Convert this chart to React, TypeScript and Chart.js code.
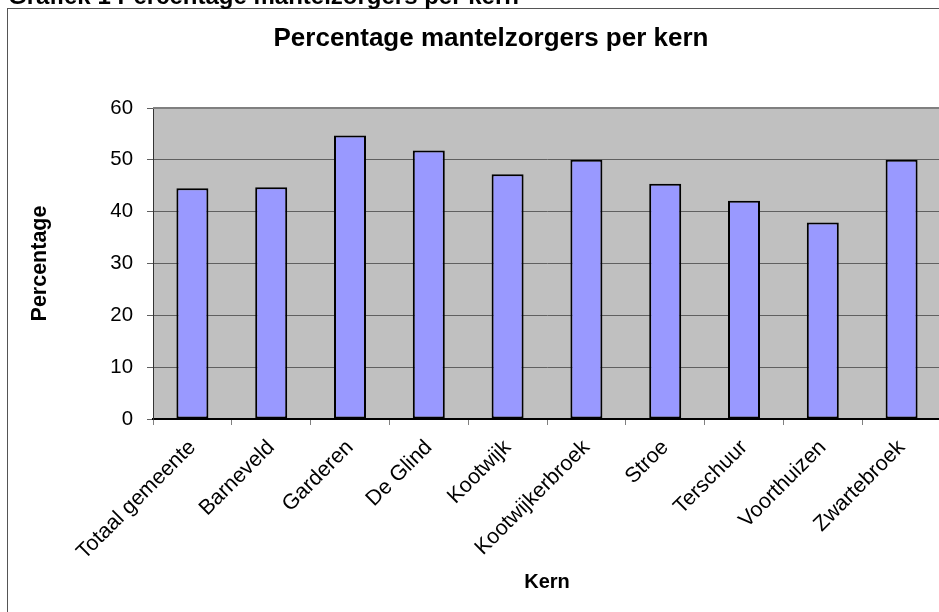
import React, { useEffect, useRef } from 'react';
import { Chart, registerables } from 'chart.js';

Chart.register(...registerables);

const categories = [
  'Totaal gemeente',
  'Barneveld',
  'Garderen',
  'De Glind',
  'Kootwijk',
  'Kootwijkerbroek',
  'Stroe',
  'Terschuur',
  'Voorthuizen',
  'Zwartebroek',
];
const percentages = [44.5, 44.7, 54.7, 51.8, 47.2, 50.0, 45.4, 42.1, 37.9, 50.0];
const yMin = 0;
const yMax = 60;
const yStep = 10;
const headerText = 'Grafiek 1 Percentage mantelzorgers per kern';
const chartTitle = 'Percentage mantelzorgers per kern';
const xTitle = 'Kern';
const yTitle = 'Percentage';

const FONT = '"Liberation Sans", Arial, Helvetica, sans-serif';
const CANVAS_W = 980;
const CANVAS_H = 640;

const decorPlugin = {
  id: 'decor',
  beforeDraw(chart: any) {
    const { ctx, chartArea: a } = chart;
    ctx.save();
    // outer chart box
    ctx.strokeStyle = '#555555';
    ctx.lineWidth = 1;
    ctx.strokeRect(7.5, 8.5, chart.width + 20, chart.height + 20);
    // plot area background
    ctx.fillStyle = '#C0C0C0';
    ctx.fillRect(a.left, a.top, a.right - a.left, a.bottom - a.top);
    // document header (cut off at the top)
    ctx.fillStyle = '#000';
    ctx.font = `bold 24px ${FONT}`;
    ctx.textAlign = 'left';
    ctx.textBaseline = 'alphabetic';
    ctx.fillText(headerText, 8, 4);
    // chart title
    ctx.font = `bold 26px ${FONT}`;
    ctx.textAlign = 'center';
    ctx.textBaseline = 'middle';
    ctx.fillText(chartTitle, 491, 39);
    ctx.restore();
  },
  beforeDatasetsDraw(chart: any) {
    const { ctx, chartArea: a } = chart;
    ctx.save();
    ctx.strokeStyle = '#808080';
    ctx.lineWidth = 2;
    ctx.beginPath();
    ctx.moveTo(a.left, a.top);
    ctx.lineTo(a.right + 5, a.top);
    ctx.stroke();
    ctx.restore();
  },
};

export default function App() {
  const canvasRef = useRef<HTMLCanvasElement | null>(null);

  useEffect(() => {
    if (!canvasRef.current) return;
    const chart = new Chart(canvasRef.current, {
      type: 'bar',
      data: {
        labels: categories,
        datasets: [
          {
            label: yTitle,
            data: percentages,
            backgroundColor: '#9999FF',
            borderColor: '#000000',
            borderWidth: 2,
            borderSkipped: false,
            categoryPercentage: 1,
            barPercentage: 0.406,
          },
        ],
      },
      options: {
        animation: false,
        responsive: false,
        devicePixelRatio: 1,
        layout: { padding: { left: 0, top: 108, right: CANVAS_W - 941, bottom: 0 } },
        plugins: {
          legend: { display: false },
          tooltip: { enabled: false },
          title: { display: false },
        },
        scales: {
          x: {
            offset: true,
            grid: {
              display: true,
              drawOnChartArea: false,
              drawTicks: true,
              tickLength: 6,
              color: '#808080',
              offset: true,
            },
            border: { display: true, color: '#000000', width: 2 },
            ticks: {
              autoSkip: false,
              maxRotation: 45,
              minRotation: 45,
              padding: 10,
              color: '#000000',
              font: { family: FONT, size: 21.4 },
            },
            title: {
              display: true,
              text: xTitle,
              color: '#000000',
              font: { family: FONT, size: 20, weight: 'bold' },
              padding: { top: 0, bottom: 46 },
            },
            afterFit(scale: any) {
              scale.height = CANVAS_H - 419;
            },
          },
          y: {
            min: yMin,
            max: yMax,
            ticks: {
              stepSize: yStep,
              padding: 14,
              color: '#000000',
              font: { family: FONT, size: 20.4 },
            },
            grid: {
              color: '#606060',
              lineWidth: 1,
              drawTicks: true,
              tickLength: 6,
              tickColor: '#606060',
            },
            border: { display: true, color: '#333333', width: 1 },
            title: {
              display: true,
              text: yTitle,
              color: '#000000',
              font: { family: FONT, size: 21.5, weight: 'bold' },
              padding: { top: 27, bottom: 0 },
            },
            afterFit(scale: any) {
              scale.width = 153;
            },
          },
        },
      },
      plugins: [decorPlugin],
    });
    return () => chart.destroy();
  }, []);

  return (
    <div
      style={{
        position: 'fixed',
        left: 0,
        top: 0,
        width: 939,
        height: 612,
        overflow: 'hidden',
        background: '#ffffff',
      }}
    >
      <canvas
        ref={canvasRef}
        width={CANVAS_W}
        height={CANVAS_H}
        style={{ display: 'block', width: CANVAS_W, height: CANVAS_H }}
      />
    </div>
  );
}
